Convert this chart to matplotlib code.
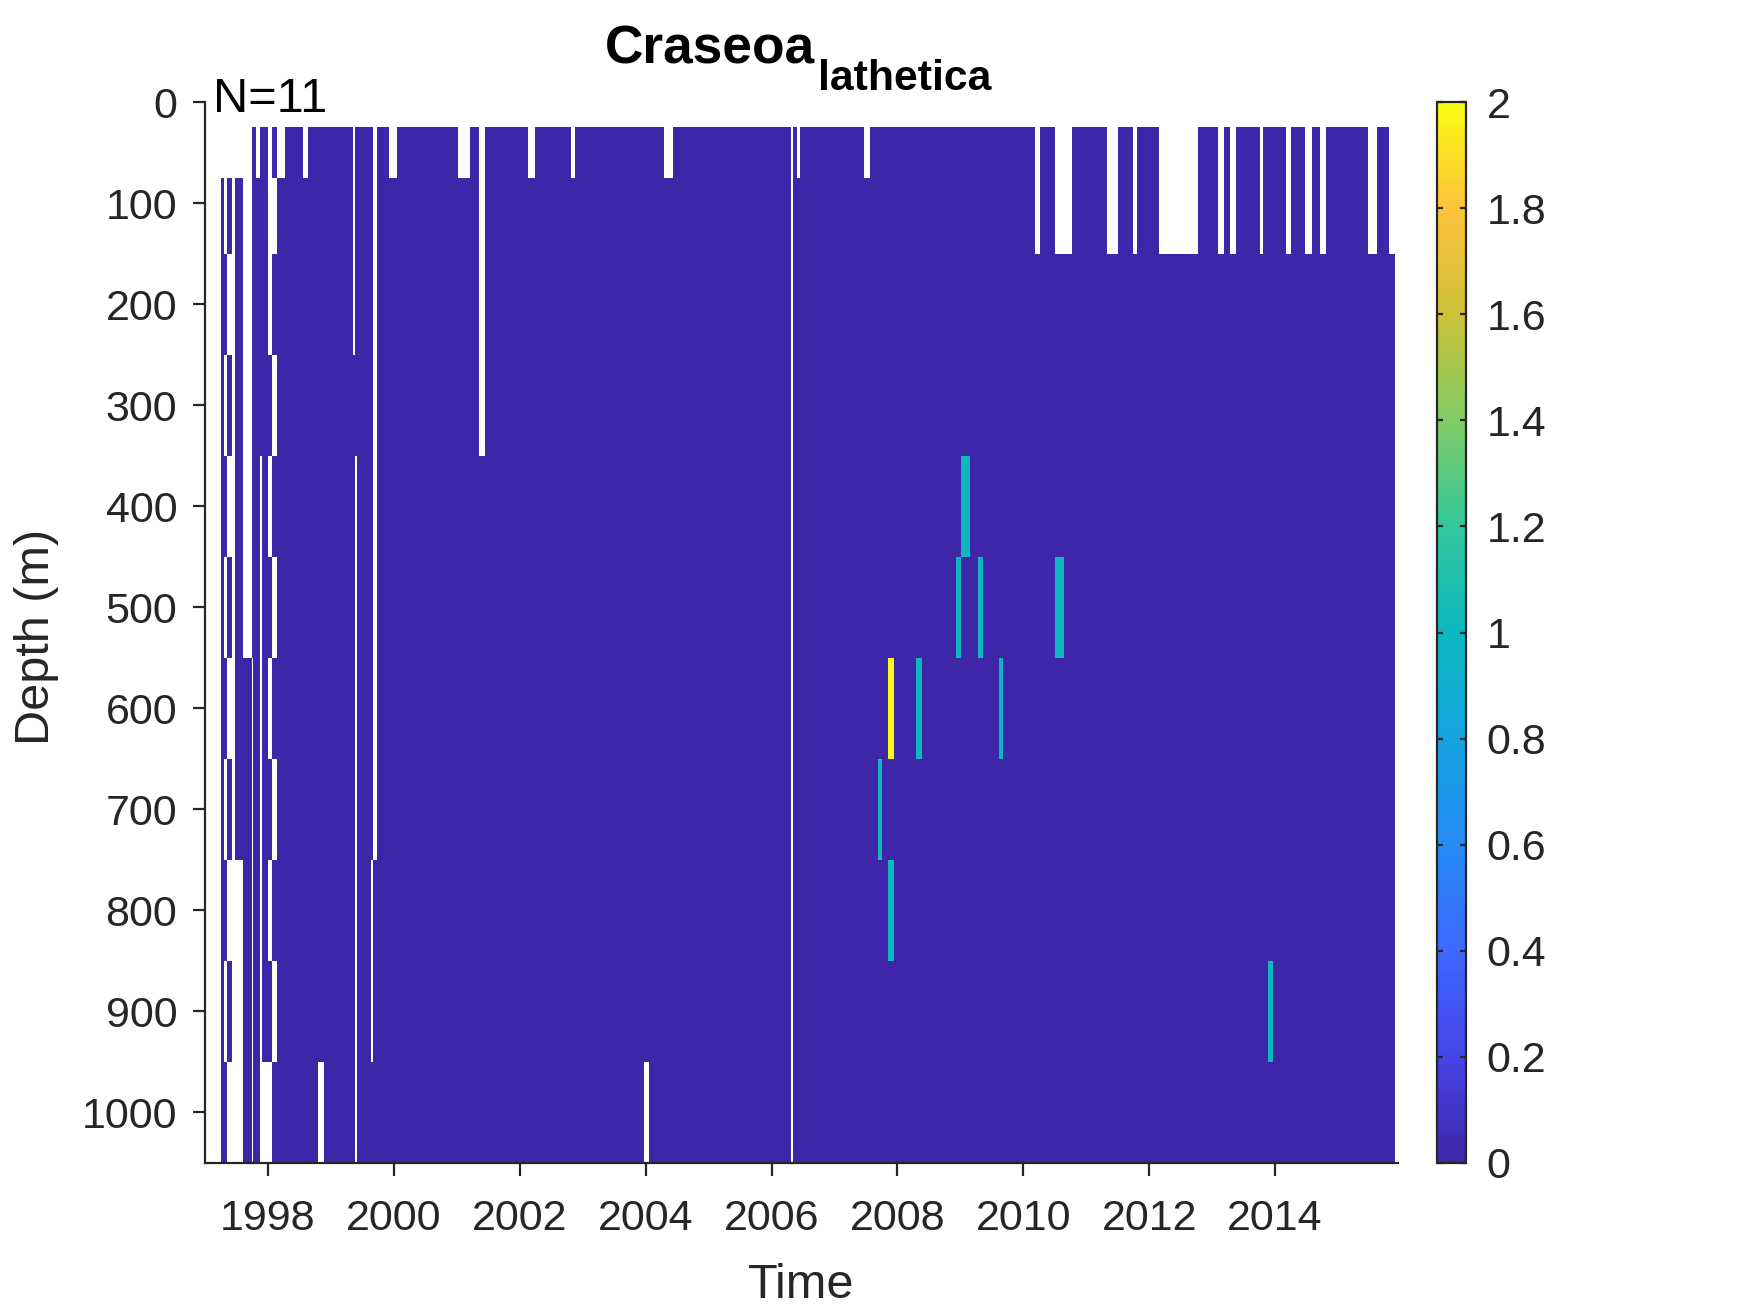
import numpy as np
import matplotlib
matplotlib.use("Agg")
import matplotlib.pyplot as plt
from matplotlib.colors import LinearSegmentedColormap

# ---------------- data ----------------
# depth bin edges (m), rows 0..10
depth_edges = [25, 75, 150, 250, 350, 450, 550, 650, 750, 850, 950, 1050]
data_end = 2015.905

# early sampling columns (decimal year edges) and rows missing in each column
early_edges = [1997.254, 1997.302, 1997.350, 1997.424, 1997.477, 1997.598,
               1997.747, 1997.768, 1997.805, 1997.874, 1997.911, 1998.006,
               1998.064, 1998.139, 1998.271]
early_missing = [
    [0],
    [0, 1, 3, 5, 7, 9],
    [0, 2, 4, 6, 8, 10],
    [0, 1, 2, 3, 4, 5, 6, 7, 8, 9, 10],
    [0, 8, 9, 10],
    [0, 1, 2, 3, 4, 5],
    [6, 7, 8, 9, 10],
    [],
    [0],
    [4, 5, 6, 7, 8, 9, 10],
    [10],
    [0, 1, 2, 4, 6, 8, 10],
    [1, 3, 5, 7, 9],
    [0],
]

# later missing blocks: start year, end year, first row, last row
gap_start = [1998.552, 1998.800, 1999.356, 1999.388, 1999.632, 1999.664, 1999.923,
             2001.019, 2001.348, 2002.126, 2002.814, 2003.982, 2004.291, 2006.304,
             2006.409, 2007.469, 2010.185, 2010.503, 2011.329, 2011.742, 2012.155,
             2013.092, 2013.283, 2013.760, 2014.173, 2014.475, 2014.713, 2015.476,
             2015.810]
gap_end = [1998.641, 1998.890, 1999.388, 1999.410, 1999.664, 1999.728, 2000.045,
           2001.210, 2001.448, 2002.242, 2002.877, 2004.053, 2004.434, 2006.336,
           2006.452, 2007.564, 2010.264, 2010.773, 2011.504, 2011.806, 2012.775,
           2013.188, 2013.378, 2013.803, 2014.248, 2014.586, 2014.808, 2015.619,
           2015.905]
gap_row0 = [0, 10, 0, 4, 8, 0, 0, 0, 0, 0, 0, 10, 0, 0, 0, 0,
            0, 0, 0, 0, 0, 0, 0, 0, 0, 0, 0, 0, 0]
gap_row1 = [0, 10, 2, 10, 9, 7, 0, 0, 3, 0, 0, 10, 0, 10, 0, 0,
            1, 1, 1, 1, 1, 1, 1, 1, 1, 1, 1, 1, 1]

# non-zero observations: start year, end year, row, value
obs_start = [2009.010, 2008.930, 2009.275, 2010.503, 2007.845, 2008.290,
             2009.613, 2007.686, 2007.845, 2013.886]
obs_end = [2009.153, 2009.010, 2009.354, 2010.646, 2007.945, 2008.390,
           2009.681, 2007.754, 2007.945, 2013.974]
obs_row = [4, 5, 5, 5, 6, 6, 6, 7, 8, 9]
obs_val = [1.0, 1.0, 1.0, 1.0, 2.0, 1.0, 0.95, 1.0, 1.0, 1.0]

# ---------------- grid ----------------
edges = set(early_edges) | set(gap_start) | set(gap_end) | set(obs_start) | set(obs_end)
edges.add(data_end)
edges = np.array(sorted(e for e in edges if early_edges[0] <= e <= data_end))
nrow = len(depth_edges) - 1
Z = np.zeros((nrow, len(edges) - 1))
mid = 0.5 * (edges[:-1] + edges[1:])
for j, m in enumerate(mid):
    for i in range(len(early_edges) - 1):
        if early_edges[i] <= m < early_edges[i + 1]:
            for r in early_missing[i]:
                Z[r, j] = np.nan
    for a, b, r0, r1 in zip(gap_start, gap_end, gap_row0, gap_row1):
        if a <= m < b:
            Z[r0:r1 + 1, j] = np.nan
    for a, b, r, v in zip(obs_start, obs_end, obs_row, obs_val):
        if a <= m < b:
            Z[r, j] = v
Zm = np.ma.masked_invalid(Z)

# parula-like colormap
parula_pts = [(0.2422, 0.1504, 0.6603), (0.2760, 0.2690, 0.9090),
              (0.2440, 0.4060, 0.9960), (0.1460, 0.5460, 0.9620),
              (0.0830, 0.6420, 0.8800), (0.0500, 0.7200, 0.7500),
              (0.2000, 0.7800, 0.6100), (0.5000, 0.8000, 0.4000),
              (0.8000, 0.7600, 0.2200), (0.9950, 0.7600, 0.2300),
              (0.9769, 0.9839, 0.0805)]
parula = LinearSegmentedColormap.from_list("parula", parula_pts, N=256)
parula.set_bad("white")

# ---------------- figure ----------------
plt.rcParams["font.family"] = ["Liberation Sans", "DejaVu Sans"]
ink = (0.15, 0.15, 0.15)

W, H = 1750, 1313
fig = plt.figure(figsize=(W / 200, H / 200), dpi=200)
ax = fig.add_axes([205 / W, 1 - 1163 / H, (1398 - 205) / W, (1163 - 102) / H])
mesh = ax.pcolormesh(edges, depth_edges, Zm, cmap=parula, vmin=0, vmax=2,
                     shading="flat", edgecolors="none", antialiased=False)
ax.set_xlim(1997, 2015.953)
ax.set_ylim(1050, 0)
ax.set_xticks(np.arange(1998, 2015, 2))
ax.set_yticks(np.arange(0, 1001, 100))
for s in ["top", "right"]:
    ax.spines[s].set_visible(False)
for s in ["left", "bottom"]:
    ax.spines[s].set_linewidth(0.8)
    ax.spines[s].set_color(ink)
ax.tick_params(direction="out", length=4.5, width=0.8, colors=ink,
               labelsize=15.5, labelcolor=ink)
ax.tick_params(axis="x", pad=8.5)
ax.tick_params(axis="y", pad=5.5)

ax.set_xlabel("Time", fontsize=17.5, color=ink)
ax.xaxis.label.set_va("baseline")
ax.xaxis.set_label_coords(0.5, -(1298 - 1163) / 1061)
ax.set_ylabel("Depth (m)", fontsize=17.5, color=ink)
ax.yaxis.label.set_va("baseline")
ax.yaxis.set_label_coords((49 - 205) / 1193, 1 - (637 - 102) / 1061)

# title: species name with subscript, as in the original
fig.text(605 / W, 1 - 63.3 / H, "Craseoa", ha="left", va="baseline",
         fontsize=19.2, fontweight="bold", color="black")
fig.text(818 / W, 1 - 90 / H, "lathetica", ha="left", va="baseline",
         fontsize=15.4, fontweight="bold", color="black")
fig.text(213 / W, 1 - 112 / H, "N=11", ha="left", va="baseline",
         fontsize=17.5, color="black")

cax = fig.add_axes([1437 / W, 1 - 1163 / H, 29 / W, (1163 - 102) / H])
cb = fig.colorbar(mesh, cax=cax, ticks=np.arange(0, 2.01, 0.2))
cb.ax.set_yticklabels([f"{v:g}" for v in np.round(np.arange(0, 2.01, 0.2), 1)])
cb.outline.set_linewidth(0.8)
cb.outline.set_edgecolor(ink)
cb.ax.tick_params(direction="in", left=True, right=True, length=2.2, width=0.8,
                  colors=ink, labelsize=15.5, labelcolor=ink, pad=7.5)

fig.savefig("out.png", dpi=200)
